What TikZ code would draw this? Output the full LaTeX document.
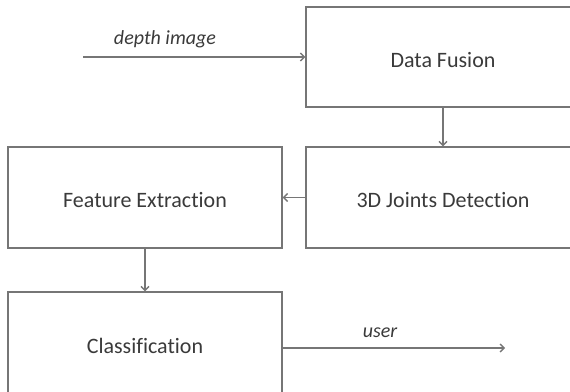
\documentclass[tikz,border=0pt]{standalone}
\usepackage{fontspec}
\setmainfont{Carlito}[Ligatures=NoCommon]
\usetikzlibrary{arrows.meta}
\definecolor{linegray}{HTML}{767676}
\definecolor{textgray}{HTML}{3A3A3A}
\begin{document}
\begin{tikzpicture}[x=1pt,y=-1pt,
  box/.style={draw=linegray,line width=1.4pt,rectangle,inner sep=0pt,
    minimum width=274pt,text=textgray,text height=20pt,text depth=0pt,
    font=\fontsize{22}{26}\selectfont},
  conn/.style={draw=linegray,line width=1.3pt,-{Straight Barb[length=4pt,width=8pt]}},
  lbl/.style={text=textgray,inner sep=0pt,font=\fontsize{20}{24}\selectfont\itshape}]
\useasboundingbox (0,0) rectangle (570,391);
\clip (0,0) rectangle (570,391);
\node[box,minimum height=100pt] (df) at (443,57) {Data Fusion};
\node[box,minimum height=101pt] (jd) at (443,197.5) {3D Joints Detection};
\node[box,minimum height=101pt] (fe) at (145,197.5) {Feature Extraction};
\node[box,minimum height=108pt,text height=14pt] (cl) at (145,346) {Classification};
\coordinate (in) at (83,57);
\coordinate (out) at (505,348);
\draw[conn] (in) -- (df.west);
\node[lbl] (dlab) at (165,39) {depth image};
\draw[conn] (df.south) -- (jd.north);
\draw[conn] (jd.west) -- (fe.east);
\draw[conn] (fe.south) -- (cl.north);
\draw[conn] (cl.east |- out) -- (out);
\node[lbl] (ulab) at (380,333) {user};
\end{tikzpicture}
\end{document}
